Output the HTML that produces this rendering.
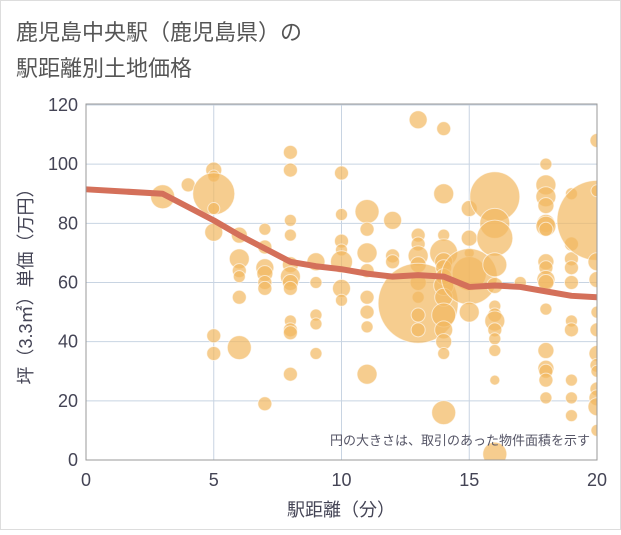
<!DOCTYPE html>
<html><head><meta charset="utf-8">
<style>
body{margin:0;background:#fff;}
svg text{font-family:"Liberation Sans","Noto Sans CJK JP",sans-serif;}
</style></head>
<body>
<svg id="chart" width="621" height="530" xmlns="http://www.w3.org/2000/svg">
<rect x="0.5" y="0.5" width="620" height="529" fill="#fff" stroke="#ddd"/>
<text x="16" y="40" font-size="22" fill="#555">鹿児島中央駅（鹿児島県）の</text>
<text x="16" y="76" font-size="22" fill="#555">駅距離別土地価格</text>
<defs><clipPath id="pc"><rect x="86" y="104" width="511" height="356"/></clipPath></defs>
<g id="grid"></g>
<g id="bubbles" clip-path="url(#pc)"></g>
<g id="line"></g>
<g id="axes"></g>
<text x="590" y="445" font-size="13" fill="#556" text-anchor="end">円の大きさは、取引のあった物件面積を示す</text>
<text x="341" y="516" font-size="18" fill="#445" text-anchor="middle">駅距離（分）</text>
<text transform="translate(32,282) rotate(-90)" font-size="18" fill="#445" text-anchor="middle">坪（3.3㎡）単価（万円）</text>
</svg>
<script>
const xTicks=[0,5,10,15,20];
const yTicks=[0,20,40,60,80,100,120];
const lineX=[0,3,5,6,8,9,10,11,12,13,14,15,16,17,18,19,20];
const lineY=[91.5,90,81,76,67,65.5,64.5,63,62,62.5,62,58.5,59,58.5,57,55.5,55];
const bx=[3,4,5,5,5,5,5,5,5,6,6,6,6,6,6,7,7,7,7,7,7,7,8,8,8,8,8,8,8,8,8,8,8,8,9,9,9,9,9,10,10,10,10,10,10,10,11,11,11,11,11,11,11,11,12,12,12,13,13,13,13,13,13,13,13,13,13,14,14,14,14,14,14,14,14,14,14,14,14,14,14,15,15,15,15,15,15,16,16,16,16,16,16,16,16,16,16,16,16,16,17,18,18,18,18,18,18,18,18,18,18,18,18,18,18,18,18,18,19,19,19,19,19,19,19,19,19,19,20,20,20,20,20,20,20,20,20,20,20,20,20,20];
const by=[89,93,98,96,90,85,77,42,36,76,68,64,62,55,38,78,72,65,63,60,58,19,104,98,81,76,66,62,60,58,47,44,43,29,67,60,49,46,36,97,83,74,71,67,58,54,84,78,70,64,55,50,45,29,81,69,67,115,76,73,69,66,60,55,53,49,44,112,90,76,70,67,65,62,59,55,49,44,40,36,16,85,75,70,63,62,50,89,80,75,66,59,52,49,47,44,41,37,27,2,60,100,93,89,86,80,79,78,67,65,61,60,51,37,31,30,27,21,90,73,68,65,60,47,44,27,21,15,108,81,91,67,61,50,44,36,32,30,24,21,18,10];
const bs=[12,7,8,6,21,6,9,7,7,8,10,7,6,7,12,6,7,9,8,7,7,7,7,7,6,6,8,10,8,7,6,7,7,7,9,6,6,6,6,7,6,7,6,11,9,6,12,7,10,7,7,7,6,10,9,7,7,9,7,7,10,8,8,6,40,7,7,7,10,6,14,9,8,8,10,9,12,9,8,6,12,8,8,5,17,28,10,25,15,18,12,8,6,7,10,7,6,6,5,12,6,6,10,10,8,9,10,7,8,7,9,8,6,8,8,7,7,6,6,7,7,7,7,6,7,6,6,6,7,40,6,9,8,6,7,8,7,6,7,8,9,6];
const X0=86,X1=597,Y0=460,Y1=105;
const sx=v=>X0+(v-0)/(20-0)*(X1-X0);
const sy=v=>Y0-(v-0)/(120-0)*(Y0-Y1);
const NS="http://www.w3.org/2000/svg";
function mk(t,a,p){const e=document.createElementNS(NS,t);for(const k in a)e.setAttribute(k,a[k]);p.appendChild(e);return e;}
const grid=document.getElementById('grid'),axes=document.getElementById('axes');
xTicks.forEach(t=>{
 const l=mk('line',{x1:sx(t),x2:sx(t),y1:104,y2:460,stroke:'#c8d4e2','stroke-width':1},grid);
 
 
 const tx=mk('text',{x:sx(t),y:486,'font-size':18,fill:'#445','text-anchor':'middle'},axes);
 tx.textContent=t;
 
 
});
yTicks.forEach(t=>{
 const l=mk('line',{x1:86,x2:597,y1:sy(t),y2:sy(t),stroke:'#c8d4e2','stroke-width':1},grid);
 
 
 const tx=mk('text',{x:78,y:sy(t)+6,'font-size':18,fill:'#445','text-anchor':'end'},axes);
 tx.textContent=t;
 
 
});
const fr=mk('rect',{x:86,y:104,width:511,height:356,fill:'none',stroke:'#999','stroke-width':1},axes);


const bg=document.getElementById('bubbles');
bx.forEach((v,i)=>{
 const c=mk('circle',{cx:sx(v),cy:sy(by[i]),r:bs[i],fill:'#f2b860','fill-opacity':0.7,stroke:'#fff','stroke-opacity':0.6,'stroke-width':1},bg);
 
 
});
const pts=lineX.map((v,i)=>sx(v)+','+sy(lineY[i])).join(' ');
const pl=mk('polyline',{points:pts,fill:'none',stroke:'#d4705a','stroke-width':6,'stroke-linejoin':'round'},document.getElementById('line'));


</script>
</body></html>
